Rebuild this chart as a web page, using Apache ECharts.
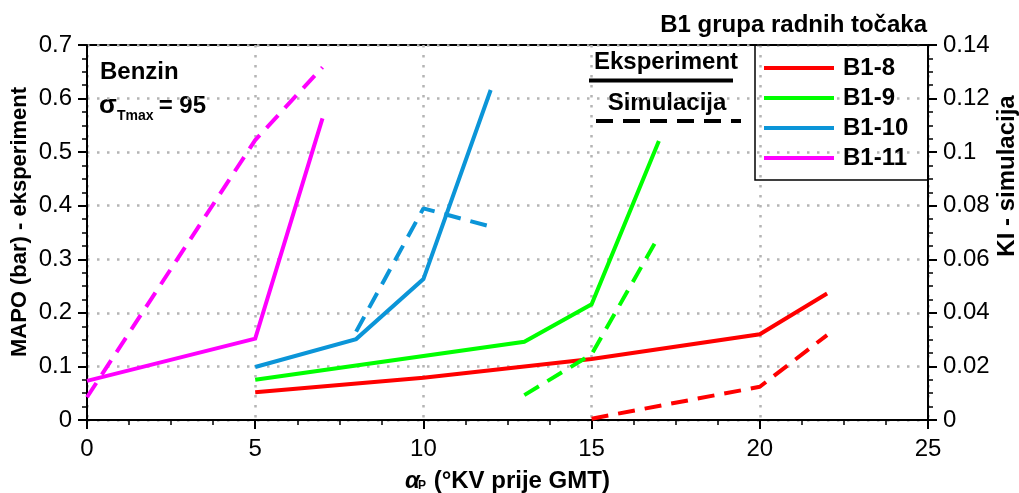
<!DOCTYPE html>
<html>
<head>
<meta charset="utf-8">
<script src="https://cdn.jsdelivr.net/npm/echarts@6/dist/echarts.min.js"></script>
<style>html,body{margin:0;padding:0;background:#fff}#c{width:1019px;height:493px}</style>
</head>
<body>
<div id="c"></div>
<script>
// Data
const xTicks = [0, 5, 10, 15, 20, 25];
const seriesNames = ['B1-8', 'B1-9', 'B1-10', 'B1-11'];
const colors = ['#ff0000', '#00ff00', '#0b95d8', '#ff00ff'];

// Experiment (MAPO, bar) - left axis
const expX_B18 = [5, 10, 15, 20, 22];
const expY_B18 = [0.052, 0.079, 0.114, 0.160, 0.236];
const expX_B19 = [5, 13, 15, 17];
const expY_B19 = [0.075, 0.146, 0.216, 0.521];
const expX_B110 = [5, 8, 10, 12];
const expY_B110 = [0.099, 0.151, 0.263, 0.616];
const expX_B111 = [0, 5, 7];
const expY_B111 = [0.073, 0.152, 0.563];

// Simulation (KI) - right axis
const simX_B18 = [15, 20, 22];
const simY_B18 = [0.0005, 0.0124, 0.0317];
const simX_B19 = [13, 15, 17];
const simY_B19 = [0.0093, 0.0245, 0.0687];
const simX_B110 = [8, 10, 12];
const simY_B110 = [0.033, 0.079, 0.0722];
const simX_B111 = [0, 5, 7];
const simY_B111 = [0.0085, 0.1045, 0.1317];

const zip = (xs, ys) => xs.map((x, i) => [x, ys[i]]);
const expData = [zip(expX_B18, expY_B18), zip(expX_B19, expY_B19), zip(expX_B110, expY_B110), zip(expX_B111, expY_B111)];
const simData = [zip(simX_B18, simY_B18), zip(simX_B19, simY_B19), zip(simX_B110, simY_B110), zip(simX_B111, simY_B111)];

const FONT = '"Liberation Sans", Arial, sans-serif';
const dash = [17, 10];

const series = [];
seriesNames.forEach((n, i) => {
  series.push({
    name: n, type: 'line', xAxisIndex: 0, yAxisIndex: 0, data: expData[i],
    showSymbol: false, symbol: 'none', color: colors[i],
    lineStyle: { color: colors[i], width: 4, cap: 'butt', join: 'miter' }, z: 3
  });
  series.push({
    name: n + ' sim', type: 'line', xAxisIndex: 0, yAxisIndex: 1, data: simData[i],
    showSymbol: false, symbol: 'none', color: colors[i],
    lineStyle: { color: colors[i], width: 4, type: dash, cap: 'butt' }, z: 3
  });
});

const gridLine = { show: true, lineStyle: { color: '#b4b4b4', width: 2.5, type: [2.5, 7.5] } };
const axisLine = { show: true, onZero: false, lineStyle: { color: '#000', width: 2 } };
const axisTick = { show: true, length: 9, lineStyle: { color: '#000', width: 2 } };
const minorTick = { show: true, splitNumber: 4, length: 5, lineStyle: { color: '#000', width: 1.5 } };
const labelStyle = { color: '#000', fontSize: 24, fontFamily: FONT };

const chart = echarts.init(document.getElementById('c'), null, { renderer: 'canvas' });
chart.setOption({
  animation: false,
  backgroundColor: '#fff',
  grid: { left: 87, right: 91, top: 45, bottom: 73, show: true, borderColor: '#000', borderWidth: 2, backgroundColor: 'transparent' },
  xAxis: {
    type: 'value', min: xTicks[0], max: xTicks[xTicks.length - 1], interval: 5,
    axisLine, axisTick, minorTick,
    axisLabel: { ...labelStyle, margin: 17 },
    splitLine: gridLine
  },
  yAxis: [
    {
      type: 'value', min: 0, max: 0.7, interval: 0.1, position: 'left',
      axisLine, axisTick, minorTick,
      axisLabel: { ...labelStyle, margin: 15 },
      splitLine: gridLine
    },
    {
      type: 'value', min: 0, max: 0.14, interval: 0.02, position: 'right',
      axisLine, axisTick, minorTick,
      axisLabel: { ...labelStyle, margin: 15 },
      splitLine: { show: false }
    }
  ],
  legend: {
    data: seriesNames, orient: 'vertical', left: 764, top: 56, padding: 0,
    icon: 'rect', itemWidth: 70, itemHeight: 4, itemGap: 6,
    textStyle: { color: '#000', fontSize: 24, fontWeight: 'bold', fontFamily: FONT, lineHeight: 24, padding: [0, 0, 0, 4] },
    selectedMode: false
  },
  graphic: [
    { type: 'rect', shape: { x: 755, y: 45, width: 173, height: 135 }, style: { fill: 'transparent', stroke: '#000', lineWidth: 1.5 }, z: 10 },
    { type: 'text', x: 927, y: 25, style: { text: 'B1 grupa radnih točaka', fill: '#000', font: 'bold 24px ' + FONT, textAlign: 'right', textVerticalAlign: 'middle' } },
    { type: 'text', x: 666, y: 62, style: { text: 'Eksperiment', fill: '#000', font: 'bold 24px ' + FONT, textAlign: 'center', textVerticalAlign: 'middle' } },
    { type: 'line', shape: { x1: 589, y1: 80.5, x2: 733, y2: 80.5 }, style: { stroke: '#000', lineWidth: 4 } },
    { type: 'text', x: 667, y: 103, style: { text: 'Simulacija', fill: '#000', font: 'bold 24px ' + FONT, textAlign: 'center', textVerticalAlign: 'middle' } },
    { type: 'line', shape: { x1: 596, y1: 121, x2: 741, y2: 121 }, style: { stroke: '#000', lineWidth: 4, lineDash: dash } },
    { type: 'text', x: 100, y: 72, style: { text: 'Benzin', fill: '#000', font: 'bold 24px ' + FONT, textAlign: 'left', textVerticalAlign: 'middle' } },
    { type: 'text', x: 99, y: 119, style: { text: 'σ', fill: '#000', font: 'bold 26px ' + FONT, textAlign: 'left', textVerticalAlign: 'bottom' } },
    { type: 'text', x: 117, y: 123, style: { text: 'Tmax', fill: '#000', font: 'bold 14px ' + FONT, textAlign: 'left', textVerticalAlign: 'bottom' } },
    { type: 'text', x: 152, y: 118, style: { text: ' = 95', fill: '#000', font: 'bold 24px ' + FONT, textAlign: 'left', textVerticalAlign: 'bottom' } },
    { type: 'text', x: 405, y: 481, style: { text: 'α', fill: '#000', font: 'italic bold 24px ' + FONT, textAlign: 'left', textVerticalAlign: 'middle' } },
    { type: 'text', x: 418, y: 486, style: { text: 'P', fill: '#000', font: 'bold 12px ' + FONT, textAlign: 'left', textVerticalAlign: 'middle' } },
    { type: 'text', x: 427, y: 481, style: { text: ' (°KV prije GMT)', fill: '#000', font: 'bold 24px ' + FONT, textAlign: 'left', textVerticalAlign: 'middle' } },
    { type: 'text', x: 20, y: 222, rotation: Math.PI / 2, style: { text: 'MAPO (bar) - eksperiment', fill: '#000', font: 'bold 22px ' + FONT, textAlign: 'center', textVerticalAlign: 'middle' } },
    { type: 'text', x: 1007, y: 176, rotation: Math.PI / 2, style: { text: 'KI - simulacija', fill: '#000', font: 'bold 24px ' + FONT, textAlign: 'center', textVerticalAlign: 'middle' } }
  ],
  series
});
</script>
</body>
</html>
